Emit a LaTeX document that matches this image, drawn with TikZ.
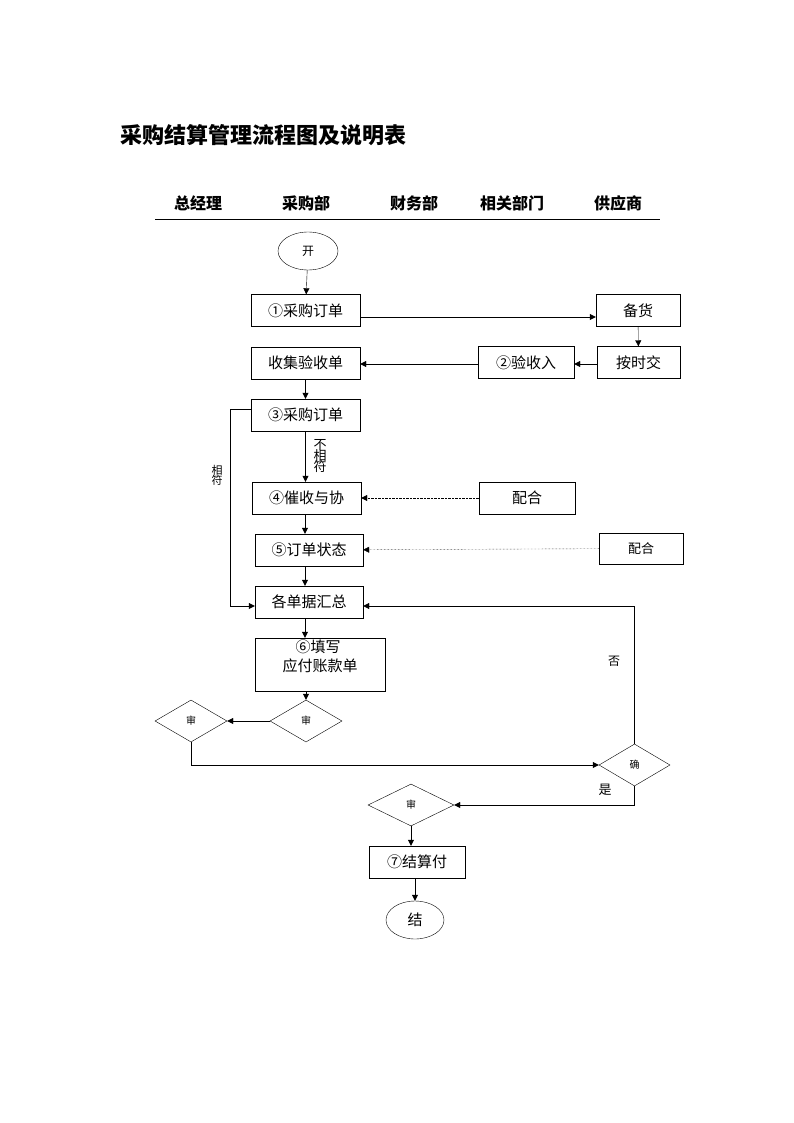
\documentclass[tikz,border=0pt]{standalone}
\usepackage{fontspec}
\setmainfont{Noto Sans CJK SC}
\usetikzlibrary{shapes.geometric,arrows.meta}
\begin{document}
\begin{tikzpicture}[x=1pt,y=-1pt,
	every node/.style={inner sep=0pt, font=\fontsize{15}{15}\selectfont},
	box/.style={draw, rectangle, minimum height=32pt},
	oval/.style={draw, ellipse, minimum width=60pt, minimum height=38pt},
	check/.style={draw, diamond, aspect=1.7, minimum width=72pt, minimum height=42pt, font=\fontsize{10}{10}\selectfont},
	head/.style={font=\fontsize{16}{16}\selectfont\bfseries},
	flow/.style={-{Triangle[length=6pt,width=6pt]}},
	help/.style={flow, densely dotted}]
	\useasboundingbox (0,0) rectangle (794,1123);
	\node[anchor=west, font=\fontsize{22}{22}\selectfont\bfseries] (title) at (120,135) {采购结算管理流程图及说明表};
	% columns
	\node[head] (gm) at (198,203) {总经理};
	\node[head] (buy) at (306,203) {采购部};
	\node[head] (fin) at (414,203) {财务部};
	\node[head] (rel) at (512,203) {相关部门};
	\node[head] (sup) at (618,203) {供应商};
	\draw (155,219) -- (660,219);
	% flow
	\node[oval] (start) at (308,251) {\fontsize{12}{12}\selectfont 开};
	\node[box, minimum width=109pt] (order) at (305.5,310.5) {①采购订单};
	\node[box, minimum width=84pt] (stock) at (638,310.5) {备货};
	\node[box, minimum width=83pt] (deliver) at (638.5,362.5) {按时交};
	\node[box, minimum width=96pt] (receive) at (526,362.5) {②验收入};
	\node[box, minimum width=109pt] (collect) at (305.5,363) {收集验收单};
	\node[box, minimum width=109pt] (order2) at (305.5,415) {③采购订单};
	\node[box, minimum width=109pt] (urge) at (306.5,498) {④催收与协};
	\node[box, minimum width=96pt] (help1) at (527,498) {配合};
	\node[box, minimum width=108pt] (state) at (309,550) {⑤订单状态};
	\node[box, minimum width=84pt, minimum height=31pt, font=\fontsize{13}{13}\selectfont] (help2) at (641,548.5) {配合};
	\node[box, minimum width=108pt] (sum) at (309,602) {各单据汇总};
	\node[box, minimum width=130pt, minimum height=53pt] (pay) at (320,664.5) {};
	\node (payA) at (318,647) {⑥填写};
	\node (payB) at (320,666) {应付账款单};
	\node[check] (audit1) at (306,721) {审};
	\node[check] (audit2) at (191,721) {审};
	\node[check, minimum width=71pt] (confirm) at (634.5,765) {确};
	\node[check, minimum width=86pt] (audit3) at (411,805) {审};
	\node[box, minimum width=96pt] (settle) at (417,862) {⑦结算付};
	\node[oval, minimum width=58pt] (stop) at (415,920) {结};
	% connectors
	\draw[flow] (start) -- (order);
	\draw[flow] (order.east |- 0,317) -- (stock.west |- 0,317);
	\draw[flow] (stock) -- (deliver);
	\draw[flow] (deliver.west |- 0,364) -- (receive.east |- 0,364);
	\draw[flow] (receive.west |- 0,364) -- (collect.east |- 0,364);
	\draw[flow] (collect) -- (order2);
	\draw[flow] (order2) -- node[right=8pt, align=center, font=\fontsize{13}{13}\selectfont] {不\\[-2pt]相\\[-2pt]符} (urge.north -| order2);
	\draw[flow] (order2.west |- 0,409) -- (230,409) |- (sum.west |- 0,606);
	\node[align=center, font=\fontsize{11}{11}\selectfont] (match) at (217,475) {相\\[-1pt]符};
	\draw[help] (help1) -- (urge);
	\draw[help] (help2) -- (state);
	\draw[flow] (urge.south -| 305,0) -- (state.north -| 305,0);
	\draw[flow] (state.south -| 305,0) -- (sum.north -| 305,0);
	\draw[flow] (sum.south -| 305,0) -- (pay.north -| 305,0);
	\draw[flow] (pay.south -| audit1) -- (audit1);
	\draw[flow] (audit1) -- (audit2);
	\draw[flow] (audit2.south) |- (confirm.west);
	\draw[flow] (confirm.north) |- (sum.east |- 0,606);
	\node[font=\fontsize{12}{12}\selectfont] (no) at (614,661) {否};
	\draw[flow] (confirm.south) |- (audit3.east);
	\node[font=\fontsize{13}{13}\selectfont] (yes) at (605,790) {是};
	\draw[flow] (audit3) -- (settle.north -| audit3);
	\draw[flow] (settle.south -| stop) -- (stop);
\end{tikzpicture}
\end{document}
